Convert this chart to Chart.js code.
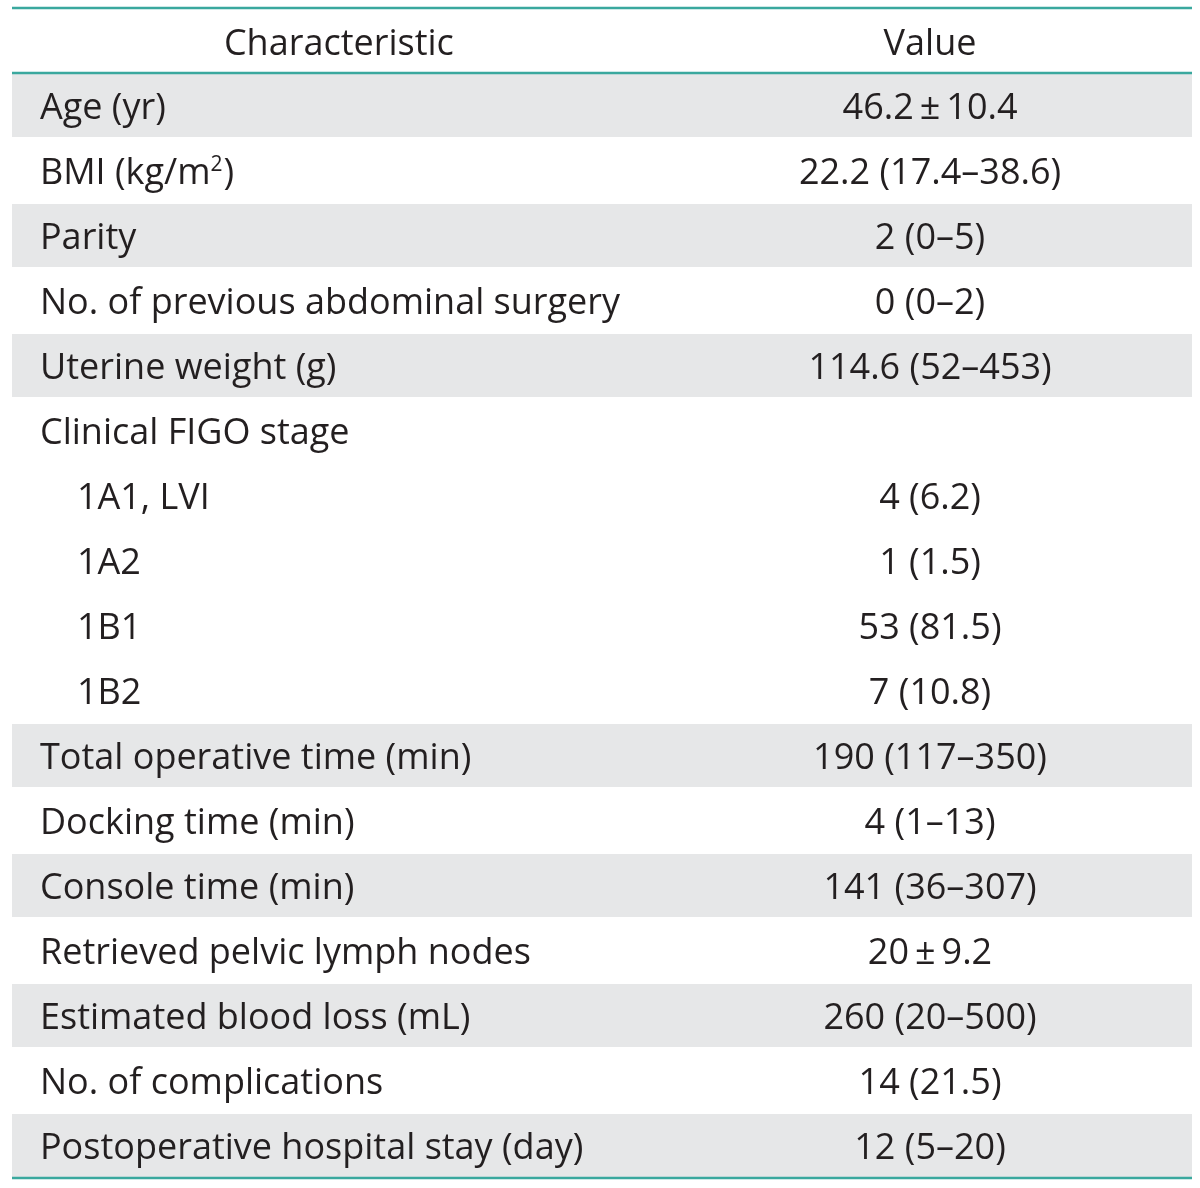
<!DOCTYPE html>
<html>
<head>
<meta charset="utf-8">
<script src="https://cdn.jsdelivr.net/npm/chart.js@4.4.0/dist/chart.umd.min.js"></script>
<style>
  html, body { margin: 0; padding: 0; background: #fff; }
  #wrap { width: 1200px; height: 1188px; }
</style>
</head>
<body>
<div id="wrap"><canvas id="myChart" width="1200" height="1188"></canvas></div>
<script>
var headers = ["Characteristic", "Value"];
var characteristics = [
  "Age (yr)", "BMI (kg/m^2)", "Parity", "No. of previous abdominal surgery",
  "Uterine weight (g)", "Clinical FIGO stage", "1A1, LVI", "1A2", "1B1", "1B2",
  "Total operative time (min)", "Docking time (min)", "Console time (min)",
  "Retrieved pelvic lymph nodes", "Estimated blood loss (mL)",
  "No. of complications", "Postoperative hospital stay (day)"
];
var values = [
  "46.2\u2009\u00b1\u200910.4", "22.2 (17.4\u201338.6)", "2 (0\u20135)", "0 (0\u20132)",
  "114.6 (52\u2013453)", "", "4 (6.2)", "1 (1.5)", "53 (81.5)", "7 (10.8)",
  "190 (117\u2013350)", "4 (1\u201313)", "141 (36\u2013307)", "20\u2009\u00b1\u20099.2",
  "260 (20\u2013500)", "14 (21.5)", "12 (5\u201320)"
];
// rows that sit under "Clinical FIGO stage"
var subRows = ["1A1, LVI", "1A2", "1B1", "1B2"];
// rows with the grey band
var shadedRows = ["Age (yr)", "Parity", "Uterine weight (g)", "Total operative time (min)",
  "Console time (min)", "Estimated blood loss (mL)", "Postoperative hospital stay (day)"];

var rowLabels = ["header"].concat(characteristics);
var bandData = rowLabels.map(function (r) { return shadedRows.indexOf(r) >= 0 ? 1 : null; });

var TEAL = '#3aa89e';
var INK = '#231f20';
var FONT = '36px "Open Sans"';
var SUPFONT = '21px "Open Sans"';

function drawLabel(ctx, text, x, y, align) {
  // handle the superscript in m^2
  var parts = text.split('^');
  if (parts.length === 1) {
    ctx.textAlign = align;
    ctx.fillText(text, x, y);
    return;
  }
  var head = parts[0], sup = parts[1].charAt(0), tail = parts[1].slice(1);
  ctx.font = FONT;
  var w1 = ctx.measureText(head).width;
  ctx.font = SUPFONT;
  var w2 = ctx.measureText(sup).width;
  ctx.font = FONT;
  var w3 = ctx.measureText(tail).width;
  var sx = align === 'center' ? x - (w1 + w2 + w3) / 2 : x;
  ctx.textAlign = 'left';
  ctx.fillText(head, sx, y);
  ctx.font = SUPFONT;
  ctx.fillText(sup, sx + w1, y - 13);
  ctx.font = FONT;
  ctx.fillText(tail, sx + w1 + w2 + 1, y);
}

var tableText = {
  id: 'tableText',
  afterDatasetsDraw: function (chart) {
    var ctx = chart.ctx;
    var xs = chart.scales.x, ys = chart.scales.y;
    var area = chart.chartArea;
    var step = (area.bottom - area.top) / rowLabels.length;
    ctx.save();
    ctx.fillStyle = INK;
    ctx.font = FONT;
    ctx.textBaseline = 'alphabetic';

    var hy = ys.getPixelForValue(0) + 14;
    drawLabel(ctx, headers[0], xs.getPixelForValue(0.277), hy, 'center');
    drawLabel(ctx, headers[1], xs.getPixelForValue(0.778), hy, 'center');

    characteristics.forEach(function (c, i) {
      var y = ys.getPixelForValue(i + 1) + 13;
      var lx = subRows.indexOf(c) >= 0 ? xs.getPixelForValue(0.055) : xs.getPixelForValue(0.0237);
      drawLabel(ctx, c, lx, y, 'left');
      if (values[i]) drawLabel(ctx, values[i], xs.getPixelForValue(0.778), y, 'center');
    });

    // teal rules
    ctx.strokeStyle = TEAL;
    ctx.lineWidth = 2.5;
    [area.top, area.top + step, area.bottom].forEach(function (ly) {
      ctx.beginPath();
      ctx.moveTo(area.left, ly);
      ctx.lineTo(area.right, ly);
      ctx.stroke();
    });
    ctx.restore();
  }
};

var ctx = document.getElementById('myChart').getContext('2d');
var chart = new Chart(ctx, {
  type: 'bar',
  data: {
    labels: rowLabels,
    datasets: [{
      data: bandData,
      backgroundColor: '#e6e7e8',
      borderWidth: 0,
      barPercentage: 0.97,
      categoryPercentage: 1
    }]
  },
  options: {
    indexAxis: 'y',
    responsive: false,
    animation: false,
    layout: { padding: { left: 12, right: 8, top: 8, bottom: 10 } },
    scales: {
      x: { display: false, min: 0, max: 1 },
      y: { display: false }
    },
    plugins: {
      legend: { display: false },
      tooltip: { enabled: false }
    }
  },
  plugins: [tableText]
});
</script>
</body>
</html>
